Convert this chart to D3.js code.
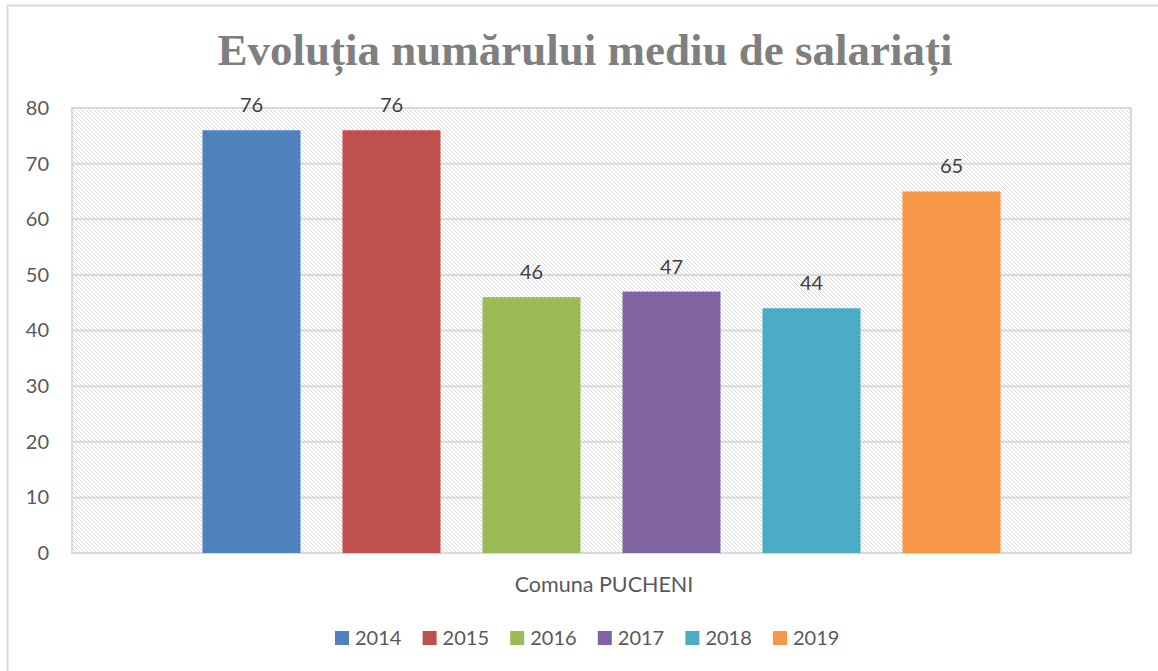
<!DOCTYPE html>
<html>
<head>
<meta charset="utf-8">
<script src="https://cdn.jsdelivr.net/npm/d3@7"></script>
<style>
  body { margin: 0; background: #fff; }
  svg { display: block; }
</style>
</head>
<body>
<svg id="chart" width="1158" height="671"></svg>
<script>
const years = ["2014", "2015", "2016", "2017", "2018", "2019"];
const values = [76, 76, 46, 47, 44, 65];
const colors = ["#4f81bd", "#c0504d", "#9bbb59", "#8064a2", "#4bacc6", "#f79646"];
const yTicks = [0, 10, 20, 30, 40, 50, 60, 70, 80];
const category = "Comuna PUCHENI";
const title = "Evoluția numărului mediu de salariați";

const svg = d3.select("#chart");
const font = "Lato, 'Open Sans', sans-serif";
const textColor = "#595959";

const plot = { left: 72, right: 1131, top: 108, bottom: 553 };

// outer chart border (right/bottom fall outside the picture)
svg.append("rect")
    .attr("x", 7.5).attr("y", 5.5)
    .attr("width", 1200).attr("height", 700)
    .attr("fill", "none")
    .attr("stroke", "#d9d9d9")
    .attr("stroke-width", 2);

const defs = svg.append("defs");
const pat = defs.append("pattern")
    .attr("id", "hatch")
    .attr("patternUnits", "userSpaceOnUse")
    .attr("width", 4).attr("height", 4);
pat.append("rect").attr("width", 4).attr("height", 4).attr("fill", "#fff");
pat.append("path")
    .attr("d", "M-1,-1 L5,5 M-1,3 L1,5 M3,-1 L5,1")
    .attr("stroke", "#dadada")
    .attr("stroke-width", 1);

const y = d3.scaleLinear().domain([0, 80]).range([plot.bottom, plot.top]);
const x = d3.scaleBand()
    .domain(years)
    .range([plot.left, plot.right])
    .paddingInner(0.3)
    .paddingOuter(0.932);

svg.append("rect")
    .attr("x", plot.left).attr("y", plot.top)
    .attr("width", plot.right - plot.left)
    .attr("height", plot.bottom - plot.top)
    .attr("fill", "url(#hatch)")
    .attr("stroke", "#d9d9d9")
    .attr("stroke-width", 2);

svg.append("g")
    .selectAll("line")
    .data(yTicks)
    .join("line")
    .attr("x1", plot.left).attr("x2", plot.right)
    .attr("y1", d => y(d)).attr("y2", d => y(d))
    .attr("stroke", "#d9d9d9")
    .attr("stroke-width", 2);

const yAxis = svg.append("g")
    .attr("transform", `translate(${plot.left},0)`)
    .call(d3.axisLeft(y).tickValues(yTicks).tickSize(0).tickPadding(23));
yAxis.select(".domain").remove();
yAxis.selectAll("text")
    .attr("font-family", font)
    .attr("font-size", 20)
    .attr("fill", textColor);

svg.append("g")
    .selectAll("rect")
    .data(years)
    .join("rect")
    .attr("x", d => x(d))
    .attr("width", x.bandwidth())
    .attr("y", (d, i) => y(values[i]))
    .attr("height", (d, i) => y(0) - y(values[i]))
    .attr("fill", (d, i) => colors[i]);

svg.append("g")
    .selectAll("text")
    .data(years)
    .join("text")
    .attr("x", d => x(d) + x.bandwidth() / 2)
    .attr("y", (d, i) => y(values[i]) - 18)
    .attr("text-anchor", "middle")
    .attr("font-family", font)
    .attr("font-size", 20)
    .attr("fill", "#404040")
    .text((d, i) => values[i]);

svg.append("text")
    .attr("x", 585).attr("y", 65)
    .attr("text-anchor", "middle")
    .attr("font-family", "'Liberation Serif', serif")
    .attr("font-weight", "bold")
    .attr("font-size", 45)
    .attr("fill", "#7f7f7f")
    .text(title);

svg.append("text")
    .attr("x", 604).attr("y", 592)
    .attr("text-anchor", "middle")
    .attr("font-family", font)
    .attr("font-size", 21.5)
    .attr("fill", textColor)
    .text(category);

const legend = svg.append("g");
const itemW = 87.6;
const legendX = 335;
const item = legend.selectAll("g")
    .data(years)
    .join("g")
    .attr("transform", (d, i) => `translate(${legendX + i * itemW},0)`);
item.append("rect")
    .attr("x", 0).attr("y", 631)
    .attr("width", 14).attr("height", 14)
    .attr("fill", (d, i) => colors[i]);
item.append("text")
    .attr("x", 20).attr("y", 645)
    .attr("font-family", font)
    .attr("font-size", 20)
    .attr("fill", textColor)
    .text(d => d);
</script>
</body>
</html>
